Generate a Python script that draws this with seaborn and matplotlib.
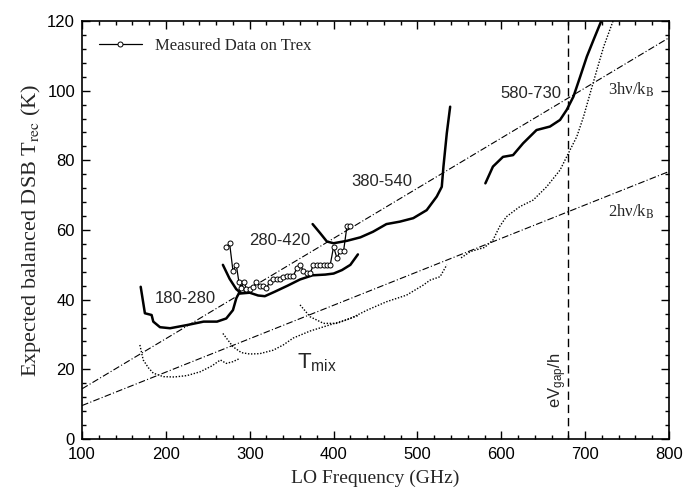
import numpy as np
import pandas as pd
import matplotlib
matplotlib.use("Agg")
import matplotlib.pyplot as plt
import seaborn as sns
from matplotlib.ticker import MultipleLocator

# receiver noise curves per band (GHz, K)
f_180 = [170, 175, 183, 185, 193, 205, 225, 245, 261, 272, 280, 284, 287, 290]
t_180 = [43.7, 36.1, 35.6, 33.7, 32.1, 31.8, 32.7, 33.7, 33.7, 34.6, 37.0, 40.4, 41.8, 44.0]

f_280 = [268, 276, 284, 290, 300, 310, 318, 330, 345, 360, 375, 390, 400, 410, 420, 429]
t_280 = [50.0, 46.0, 43.0, 41.8, 42.0, 41.2, 41.0, 42.3, 44.0, 45.8, 47.0, 47.2, 47.5, 48.5, 50.0, 53.0]

f_380 = [375, 384, 392, 400, 416, 432, 447, 463, 479, 495, 511, 523, 529, 531, 535, 539]
t_380 = [61.7, 59.1, 56.7, 56.2, 56.9, 57.9, 59.5, 61.7, 62.4, 63.4, 65.7, 69.6, 72.4, 78.2, 87.8, 95.4]

f_580 = [581, 590, 602, 614, 626, 642, 658, 670, 678, 686, 694, 702, 710, 718, 721]
t_580 = [73.4, 78.2, 81.0, 81.5, 84.9, 88.7, 89.7, 91.6, 94.5, 98.3, 104.0, 109.8, 114.6, 119.3, 121.0]

# mixer noise temperature curves
fm_180 = [169, 173, 179, 185, 197, 210, 225, 241, 255, 265, 272, 280, 287]
tm_180 = [27.0, 22.7, 20.5, 18.9, 17.9, 17.8, 18.2, 19.3, 21.0, 22.7, 21.7, 22.2, 23.0]

fm_280 = [268, 280, 290, 300, 312, 328, 340, 352, 372, 392, 412, 430]
tm_280 = [30.3, 26.5, 24.8, 24.4, 24.5, 25.5, 27.0, 29.0, 31.0, 32.5, 34.0, 35.5]

fm_380 = [360, 372, 388, 404, 420, 440, 463, 487, 507, 515, 527, 535]
tm_380 = [38.5, 35.1, 33.2, 33.2, 34.6, 37.0, 39.4, 41.3, 44.2, 45.6, 46.6, 50.0]

fm_580 = [552, 563, 580, 590, 598, 606, 622, 638, 654, 670, 682, 690, 698, 706, 714, 722, 734]
tm_580 = [52.0, 53.8, 55.0, 57.1, 61.0, 63.8, 66.7, 68.6, 72.4, 77.2, 83.0, 86.8, 92.5, 99.3, 106.0, 112.6, 120.5]

# measured data on Trex
f_meas = [272, 276, 280, 284, 287, 290, 293, 296, 300, 304, 308, 312, 316, 320, 324,
          328, 332, 336, 340, 344, 348, 352, 356, 360, 364, 368, 372, 376, 380, 384,
          388, 392, 396, 400, 404, 408, 412, 416, 420]
t_meas = [55.0, 56.2, 48.3, 50.0, 45.2, 43.3, 45.2, 43.1, 43.1, 43.5, 45.2, 43.9, 43.9, 43.3, 45.2,
          45.8, 45.8, 45.8, 46.5, 46.8, 46.8, 46.8, 49.0, 50.0, 48.3, 47.6, 47.6, 50.0, 50.0, 50.0,
          50.0, 50.0, 50.0, 55.2, 51.9, 54.1, 54.1, 61.2, 61.2]

# quantum limit lines (end points)
f_lim = [100, 800]
t_3hv = [14.4, 115.2]
t_2hv = [9.6, 76.8]
f_gap = 680

sns.set_style("ticks")
plt.rcParams["mathtext.fontset"] = "stix"

fig = plt.figure(figsize=(6.85, 4.91), dpi=100)
ax = fig.add_axes([0.1197, 0.1059, 0.857, 0.8513])

for fx, ty in [(f_180, t_180), (f_280, t_280), (f_380, t_380), (f_580, t_580)]:
    sns.lineplot(x=fx, y=ty, ax=ax, color="black", lw=1.8, sort=False, estimator=None)

for fx, ty in [(fm_180, tm_180), (fm_280, tm_280), (fm_380, tm_380), (fm_580, tm_580)]:
    sns.lineplot(x=fx, y=ty, ax=ax, color="black", lw=1.0, sort=False, estimator=None,
                 linestyle=(0, (1, 1.2)))

for ty in [t_3hv, t_2hv]:
    sns.lineplot(x=f_lim, y=ty, ax=ax, color="black", lw=0.8, sort=False, estimator=None,
                 linestyle=(0, (6, 2, 1, 2)))

ax.axvline(f_gap, color="black", lw=1.0, linestyle=(0, (6, 3.5)))

sns.lineplot(x=f_meas, y=t_meas, ax=ax, color="black", lw=0.9, sort=False, estimator=None,
             marker="o", markersize=3.6, markerfacecolor="white", markeredgecolor="black",
             markeredgewidth=0.7, label="Measured Data on Trex")

leg = ax.legend(loc="upper left", frameon=False, handlelength=2.6, borderaxespad=0.6,
                prop={"family": "Liberation Serif", "size": 12})

sans = "Liberation Sans"
serif = "Liberation Serif"
ax.text(223, 40.4, "180-280", family=sans, fontsize=12, ha="center", va="center")
ax.text(336, 57.1, "280-420", family=sans, fontsize=12, ha="center", va="center")
ax.text(458, 74, "380-540", family=sans, fontsize=12, ha="center", va="center")
ax.text(635, 99.3, "580-730", family=sans, fontsize=12, ha="center", va="center")
ax.text(727, 100.2, "3h\u03bd/k$_{\\mathrm{B}}$", family=serif, fontsize=12, ha="left", va="center")
ax.text(727, 65.3, "2h\u03bd/k$_{\\mathrm{B}}$", family=serif, fontsize=12, ha="left", va="center")
ax.text(356, 22, "T$_{\\mathregular{mix}}$", family=sans, fontsize=16, ha="left", va="center")
ax.text(667, 17, "eV$_{\\mathregular{gap}}$/h", family=sans, fontsize=12, ha="center", va="center",
        rotation=90)

ax.set_xlim(100, 800)
ax.set_ylim(0, 120)
ax.xaxis.set_major_locator(MultipleLocator(100))
ax.xaxis.set_minor_locator(MultipleLocator(20))
ax.yaxis.set_major_locator(MultipleLocator(20))
ax.yaxis.set_minor_locator(MultipleLocator(4))
ax.tick_params(which="both", direction="in", top=True, right=True, width=1.0, colors="black")
ax.tick_params(which="major", length=6, labelsize=12)
ax.tick_params(which="minor", length=3)
ax.tick_params(axis="x", which="major", pad=6)
ax.tick_params(axis="y", which="major", pad=5)
for lab in ax.get_xticklabels() + ax.get_yticklabels():
    lab.set_family(sans)
for sp in ax.spines.values():
    sp.set_linewidth(1.2)
    sp.set_color("black")

ax.set_xlabel("LO Frequency (GHz)", family=serif, fontsize=14, labelpad=5)
ax.set_ylabel("Expected balanced DSB T$_{\\mathrm{rec}}$ (K)", family=serif, fontsize=16, labelpad=3)

fig.savefig("out.png", dpi=100)
